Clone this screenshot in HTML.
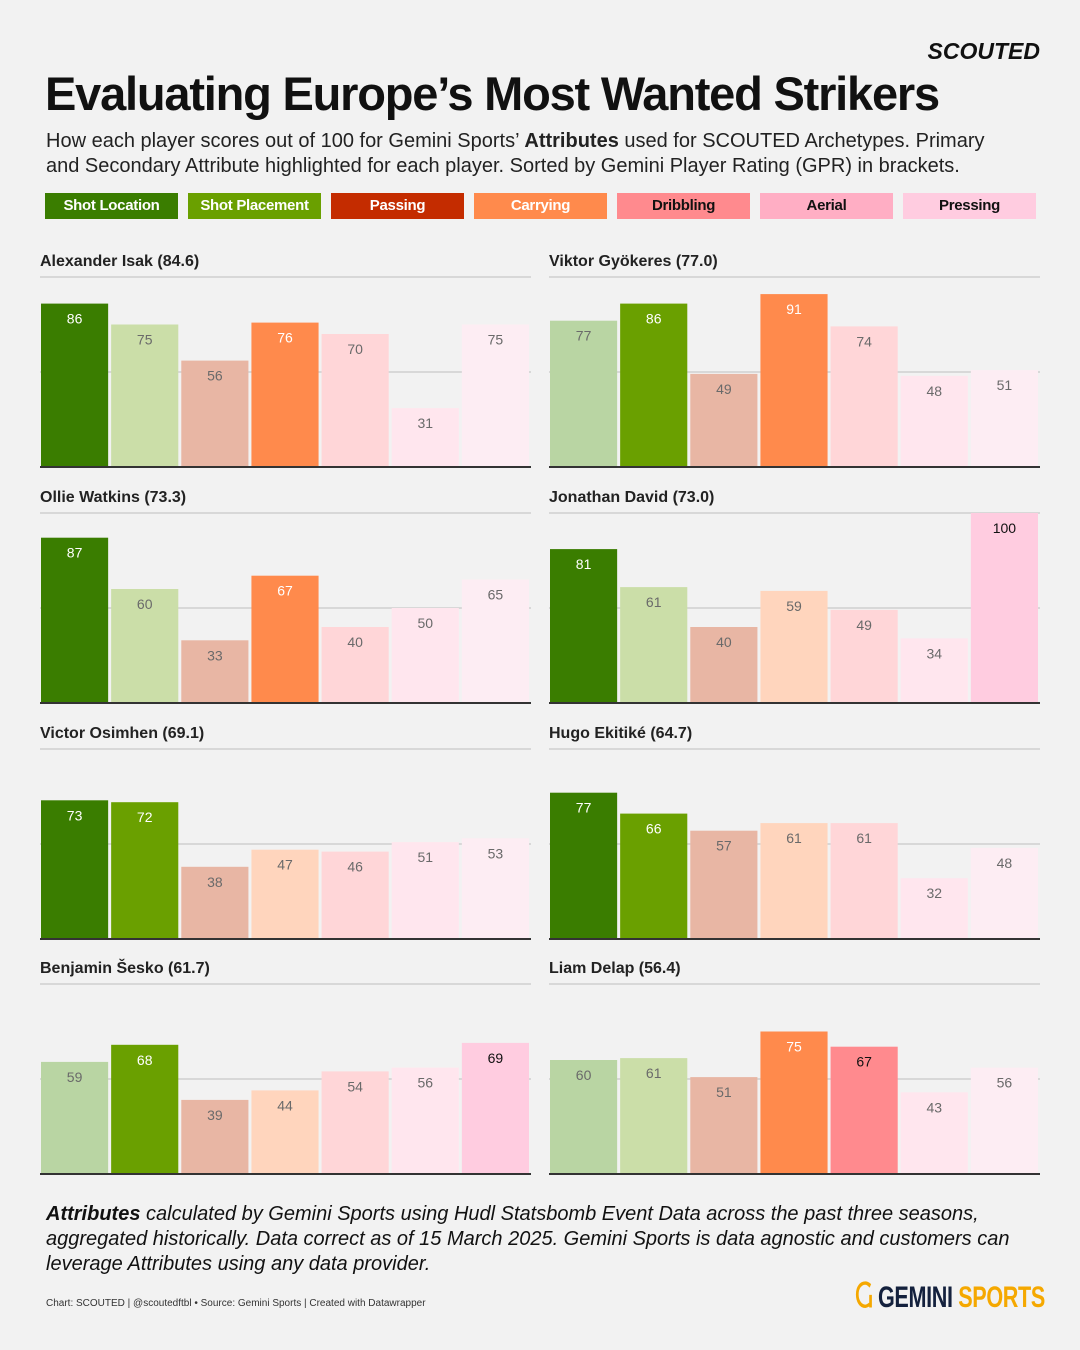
<!DOCTYPE html>
<html><head><meta charset="utf-8"><style>
body{margin:0;background:#f2f2f2;width:1080px;height:1350px;overflow:hidden;font-family:"Liberation Sans",sans-serif;color:#111}
#wrap{position:relative;width:1080px;height:1350px}
.abs{position:absolute}
.leg{position:absolute;top:193px;height:26px;line-height:26px;text-align:center;font-weight:bold;font-size:15px;color:#fff;letter-spacing:-0.3px}
</style></head><body><div id="wrap">
<div class="abs" style="right:40px;top:38px;font-size:23px;font-weight:900;font-style:italic;letter-spacing:0px">SCOUTED</div>
<div class="abs" style="left:45px;top:66px;font-size:47px;font-weight:900;letter-spacing:-1.2px;white-space:nowrap">Evaluating Europe’s Most Wanted Strikers</div>
<div class="abs" style="left:46px;top:129px;width:965px;font-size:20px;line-height:25px;color:#222">How each player scores out of 100 for Gemini Sports’ <b>Attributes</b> used for SCOUTED Archetypes. Primary and Secondary Attribute highlighted for each player. Sorted by Gemini Player Rating (GPR) in brackets.</div>
<div id="legend"></div>
<svg id="chart" class="abs" style="left:0;top:0" width="1080" height="1350"></svg>
<div class="abs" style="left:46px;top:1202px;width:1000px;font-size:20px;line-height:25px;font-style:italic;color:#111"><b>Attributes</b> calculated by Gemini Sports using Hudl Statsbomb Event Data across the past three seasons, aggregated historically. Data correct as of 15 March 2025. Gemini Sports is data agnostic and customers can leverage Attributes using any data provider.</div>
<div class="abs" style="left:46px;top:1298px;font-size:10px;color:#333">Chart: SCOUTED | @scoutedftbl • Source: Gemini Sports | Created with Datawrapper</div>
<div class="abs" style="left:855px;top:1280px;font-size:30px;font-weight:bold;letter-spacing:-0.5px;white-space:nowrap;transform:scaleX(0.72);transform-origin:left"><span style="color:#f5a800">Ⴚ</span> <span style="color:#14213d">GEMINI</span> <span style="color:#f5a800">SPORTS</span></div>
</div>
<script>
const categories=["Shot Location","Shot Placement","Passing","Carrying","Dribbling","Aerial","Pressing"];
const players=["Alexander Isak (84.6)","Viktor Gyökeres (77.0)","Ollie Watkins (73.3)","Jonathan David (73.0)","Victor Osimhen (69.1)","Hugo Ekitiké (64.7)","Benjamin Šesko (61.7)","Liam Delap (56.4)"];
const values=[
[86,75,56,76,70,31,75],
[77,86,49,91,74,48,51],
[87,60,33,67,40,50,65],
[81,61,40,59,49,34,100],
[73,72,38,47,46,51,53],
[77,66,57,61,61,32,48],
[59,68,39,44,54,56,69],
[60,61,51,75,67,43,56]];
const highlights=[[0,3],[1,3],[0,3],[0,6],[0,1],[0,1],[1,6],[3,4]];
const fullCol=["#3a7d00","#6aa000","#c42c00","#ff8a4c","#ff8a8e","#ffaec4","#ffcce0"];
const lightCol=["#b9d5a3","#cbdea8","#e8b6a4","#ffd5bd","#ffd6d8","#ffe6ee","#fdedf3"];
const fullText=["#fff","#fff","#fff","#fff","#111","#111","#111"];
const lg=document.getElementById('legend');
categories.forEach((c,i)=>{const d=document.createElement('div');d.className='leg';


d.style.left=(45+i*143)+'px';d.style.width='133px';d.style.background=fullCol[i];d.style.color=i<4?'#fff':'#111';d.textContent=c;lg.appendChild(d);});
const svg=document.getElementById('chart');const NS='http://www.w3.org/2000/svg';
function mk(t,a){const e=document.createElementNS(NS,t);for(const k in a)e.setAttribute(k,a[k]);svg.appendChild(e);return e;}
const panelX=[40,549],panelW=491,baseY=[467,703,939,1174],H=190;
function y(v,b){return b-v/100*H;}
players.forEach((p,pi)=>{
 const x0=panelX[pi%2],b=baseY[Math.floor(pi/2)];
 const t=mk('text',{x:x0,y:b-201,'font-size':16,'font-weight':'bold',fill:'#222','font-family':'Liberation Sans'});t.textContent=p;
 
 
 const g1=mk('line',{x1:x0,x2:x0+panelW,y1:y(100,b),y2:y(100,b),stroke:'#d8d8d8','stroke-width':2});
 
 
 const g2=mk('line',{x1:x0,x2:x0+panelW,y1:y(50,b),y2:y(50,b),stroke:'#d8d8d8','stroke-width':2});
 
 
 const step=panelW/7;
 values[pi].forEach((v,ci)=>{
  const hl=highlights[pi].includes(ci);
  const bx=x0+1+ci*step;
  const r=mk('rect',{x:bx,y:y(v,b),width:step-3,height:b-y(v,b),fill:hl?fullCol[ci]:lightCol[ci]});
  
  
  const l=mk('text',{x:bx+(step-3)/2,y:y(v,b)+20,'text-anchor':'middle','font-size':14,fill:hl?fullText[ci]:'#6a6a6a','font-family':'Liberation Sans'});
  l.textContent=v;
  
  
 });
 const ax=mk('line',{x1:x0,x2:x0+panelW,y1:b,y2:b,stroke:'#333','stroke-width':2});
 
 
});
</script></body></html>
